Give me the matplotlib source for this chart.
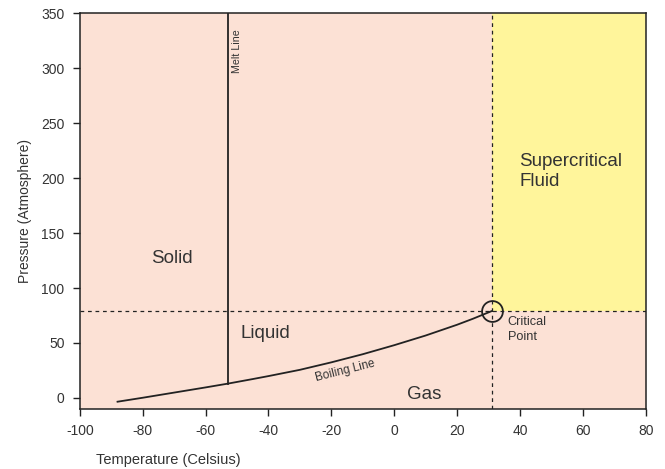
import matplotlib.pyplot as plt
import numpy as np

plt.rcParams['font.family'] = ['Liberation Sans', 'DejaVu Sans']

# phase boundaries
boil_t = [-88, -80, -70, -60, -53, -45, -40, -30, -20, -10, 0, 10, 20, 25, 31]
boil_p = [-3.4, 0.2, 4.9, 9.6, 13, 17.2, 19.9, 25.6, 32.4, 39.8, 48, 56.8, 66.6, 72, 79]
melt_t = [-53, -53]
melt_p = [13, 350]
crit_t = 31
crit_p = 79

xticks = [-100, -80, -60, -40, -20, 0, 20, 40, 60, 80]
yticks = [0, 50, 100, 150, 200, 250, 300, 350]

fig = plt.figure(figsize=(6.65, 4.69), dpi=100)
ax = fig.add_axes([0.120, 0.128, 0.851, 0.844])
ax.set_xlim(-100, 80)
ax.set_ylim(-10, 350)

# background regions
ax.axvspan(-100, 80, color='#fce1d5', zorder=0)
ax.fill_between([crit_t, 80], crit_p, 350, color='#fff59b', zorder=1, linewidth=0)

ax.axhline(crit_p, color='#222222', lw=0.9, ls=(0, (3, 3)), zorder=2)
ax.axvline(crit_t, color='#222222', lw=0.9, ls=(0, (3, 3)), zorder=2)

ax.plot(melt_t, melt_p, color='#222222', lw=1.3, zorder=3)
ax.plot(boil_t, boil_p, color='#222222', lw=1.3, zorder=3, solid_joinstyle='round')
ax.plot([crit_t], [crit_p], marker='o', ms=15, mfc='none', mec='#222222', mew=1.3, zorder=4)

tc = '#333333'
ax.text(-70.6, 127, 'Solid', fontsize=13.5, color=tc, ha='center', va='center')
ax.text(-41, 59, 'Liquid', fontsize=13.5, color=tc, ha='center', va='center')
ax.text(9.5, 3.5, 'Gas', fontsize=13.5, color=tc, ha='center', va='center')
ax.text(39.8, 206, 'Supercritical\nFluid', fontsize=13.5, color=tc, ha='left', va='center', linespacing=1.3)
ax.text(36.1, 62, 'Critical\nPoint', fontsize=9.2, color=tc, ha='left', va='center', linespacing=1.3)
ax.text(-50.1, 315.5, 'Melt Line', fontsize=7.7, color=tc, ha='center', va='center', rotation=90)
ax.text(-15.7, 24.5, 'Boiling Line', fontsize=8.5, color=tc, ha='center', va='center', rotation=14)

ax.set_xticks(xticks)
ax.set_yticks(yticks)
ax.set_xticklabels([str(t) for t in xticks])
ax.tick_params(direction='out', length=5, width=1, labelsize=10, labelcolor=tc, color='#222222', pad=6)
for s in ax.spines.values():
    s.set_color('#222222')
    s.set_linewidth(1.1)

ax.set_ylabel('Pressure (Atmosphere)', fontsize=10, color=tc)
ax.yaxis.set_label_coords(-0.085, 0.5)
ax.set_xlabel('Temperature (Celsius)', fontsize=10.5, color=tc)
ax.xaxis.set_label_coords(0.157, -0.111)

fig.savefig('out.png', dpi=100)
